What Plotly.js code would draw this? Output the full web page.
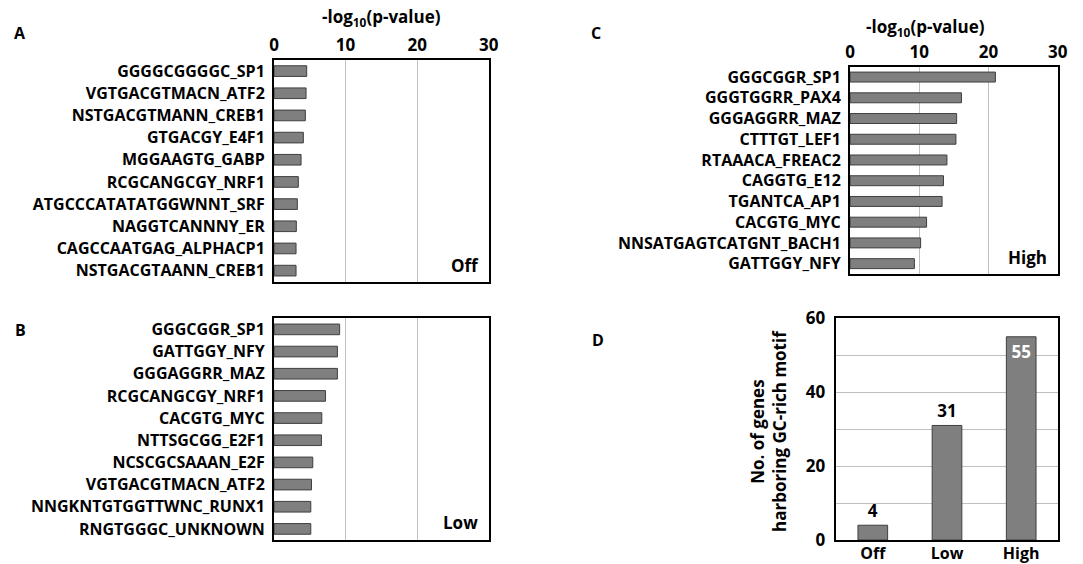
<!DOCTYPE html>
<html><head><meta charset="utf-8">
<script src="https://cdn.plot.ly/plotly-3.0.1.min.js"></script>
<style>html,body{margin:0;padding:0;background:#fff}#chart{width:1083px;height:564px}</style>
</head><body><div id="chart"></div>
<script>
// ---- Data ----
const offMotifs = ["GGGGCGGGGC_SP1","VGTGACGTMACN_ATF2","NSTGACGTMANN_CREB1","GTGACGY_E4F1","MGGAAGTG_GABP","RCGCANGCGY_NRF1","ATGCCCATATATGGWNNT_SRF","NAGGTCANNNY_ER","CAGCCAATGAG_ALPHACP1","NSTGACGTAANN_CREB1"];
const offScores = [4.57, 4.48, 4.38, 4.1, 3.78, 3.4, 3.26, 3.12, 3.08, 3.08];

const lowMotifs = ["GGGCGGR_SP1","GATTGGY_NFY","GGGAGGRR_MAZ","RCGCANGCGY_NRF1","CACGTG_MYC","NTTSGCGG_E2F1","NCSCGCSAAAN_E2F","VGTGACGTMACN_ATF2","NNGKNTGTGGTTWNC_RUNX1","RNGTGGGC_UNKNOWN"];
const lowScores = [9.17, 8.86, 8.86, 7.2, 6.68, 6.63, 5.42, 5.24, 5.14, 5.14];

const highMotifs = ["GGGCGGR_SP1","GGGTGGRR_PAX4","GGGAGGRR_MAZ","CTTTGT_LEF1","RTAAACA_FREAC2","CAGGTG_E12","TGANTCA_AP1","CACGTG_MYC","NNSATGAGTCATGNT_BACH1","GATTGGY_NFY"];
const highScores = [21.0, 16.1, 15.4, 15.3, 14.0, 13.5, 13.3, 11.06, 10.2, 9.3];

const groups = ["Off","Low","High"];
const geneCounts = [4, 31, 55];

const xTickVals = [0, 10, 20, 30];
const dTickVals = [0, 20, 40, 60];

// ---- Layout helpers ----
const W = 1083, H = 564;
const FONT = "Open Sans";
function dx(a, b) { return [a / W, b / W]; }
function dy(top, bottom) { return [1 - bottom / H, 1 - top / H]; }
function ann(text, xp, yp, size, extra) {
  return Object.assign({
    text: text, xref: "paper", yref: "paper", x: xp / W, y: 1 - yp / H,
    xanchor: "center", yanchor: "middle", showarrow: false,
    font: { family: FONT, size: size, color: "#000", weight: "bold" }
  }, extra || {});
}

const barMarker = { color: "#7f7f7f", line: { color: "#3f3f3f", width: 1 } };

const traces = [
  { type: "bar", orientation: "h", x: offScores, y: offMotifs, xaxis: "x", yaxis: "y", marker: barMarker, width: 0.48, hoverinfo: "x+y" },
  { type: "bar", orientation: "h", x: lowScores, y: lowMotifs, xaxis: "x2", yaxis: "y2", marker: barMarker, width: 0.48, hoverinfo: "x+y" },
  { type: "bar", orientation: "h", x: highScores, y: highMotifs, xaxis: "x3", yaxis: "y3", marker: barMarker, width: 0.48, hoverinfo: "x+y" },
  { type: "bar", x: groups, y: geneCounts, xaxis: "x4", yaxis: "y4", marker: barMarker, width: 0.4,
    text: geneCounts.map(String), textposition: ["outside", "outside", "inside"], insidetextanchor: "end",
    textfont: { family: FONT, size: 17, weight: "bold", color: ["#000", "#000", "#fff"] },
    constraintext: "none", cliponaxis: false, hoverinfo: "x+y" }
];

function hAxisX(domain, anchor) {
  return {
    domain: domain, anchor: anchor, range: [0, 30], side: "top", tickvals: xTickVals,
    ticks: "", showgrid: true, gridcolor: "#c0c0c0", gridwidth: 1,
    zeroline: false, showline: true, mirror: true, linecolor: "#000", linewidth: 2,
    tickfont: { family: FONT, size: 17, color: "#000", weight: "bold" }, fixedrange: true
  };
}
function hAxisY(domain, anchor) {
  return {
    domain: domain, anchor: anchor, type: "category", autorange: "reversed", ticks: "",
    showgrid: false, zeroline: false, showline: true, mirror: true, linecolor: "#000", linewidth: 2,
    ticklabelstandoff: 4,
    tickfont: { family: FONT, size: 16, color: "#000", weight: "bold" }, fixedrange: true
  };
}

// Panel B x-axis: no labels, gridlines only (drawn as minor grid)
const xaxis2 = {
  domain: dx(274, 488.7), anchor: "y2", range: [0, 30], tickvals: [], showticklabels: false,
  ticks: "", showgrid: false,
  minor: { tick0: 0, dtick: 10, showgrid: true, gridcolor: "#c0c0c0", gridwidth: 1, ticks: "" },
  zeroline: false, showline: true, mirror: true, linecolor: "#000", linewidth: 2, fixedrange: true
};

const layout = {
  width: W, height: H, margin: { l: 0, r: 0, t: 0, b: 0 },
  paper_bgcolor: "#fff", plot_bgcolor: "#fff", showlegend: false,
  font: { family: FONT, color: "#000" },
  xaxis: hAxisX(dx(274, 488.7), "y"),
  yaxis: hAxisY(dy(60, 281.7), "x"),
  xaxis2: xaxis2,
  yaxis2: hAxisY(dy(318.3, 540), "x2"),
  xaxis3: hAxisX(dx(850, 1057.7), "y3"),
  yaxis3: hAxisY(dy(66.7, 274), "x3"),
  xaxis4: {
    domain: dx(835.7, 1058.3), anchor: "y4", type: "category", ticks: "", showgrid: false,
    showline: true, mirror: true, linecolor: "#000", linewidth: 2, zeroline: false,
    ticklabelstandoff: -2,
    tickfont: { family: FONT, size: 16, color: "#000", weight: "bold" }, fixedrange: true
  },
  yaxis4: {
    domain: dy(318.3, 540), anchor: "x4", range: [0, 60], tickvals: dTickVals,
    ticks: "", showgrid: true, gridcolor: "#c0c0c0", gridwidth: 1, zeroline: false,
    minor: { dtick: 10, showgrid: true, gridcolor: "#c0c0c0", gridwidth: 1, ticks: "" },
    showline: true, mirror: true, linecolor: "#000", linewidth: 2, ticklabelstandoff: 5,
    tickfont: { family: FONT, size: 17, color: "#000", weight: "bold" }, fixedrange: true
  },
  annotations: [
    ann("A", 20, 33, 16), ann("B", 20, 330, 16), ann("C", 596, 33, 16), ann("D", 598, 340, 16),
    ann("-log<sub>10</sub>(p-value)", 381, 18, 17),
    ann("-log<sub>10</sub>(p-value)", 925, 28, 17),
    ann("Off", 465, 265, 17), ann("Low", 460, 522, 17), ann("High", 1027, 258, 17),
    ann("No. of genes<br>harboring GC-rich motif", 768, 431, 17, { textangle: -90 })
  ]
};

Plotly.newPlot("chart", traces, layout, { displayModeBar: false, staticPlot: true });
</script>
</body></html>
